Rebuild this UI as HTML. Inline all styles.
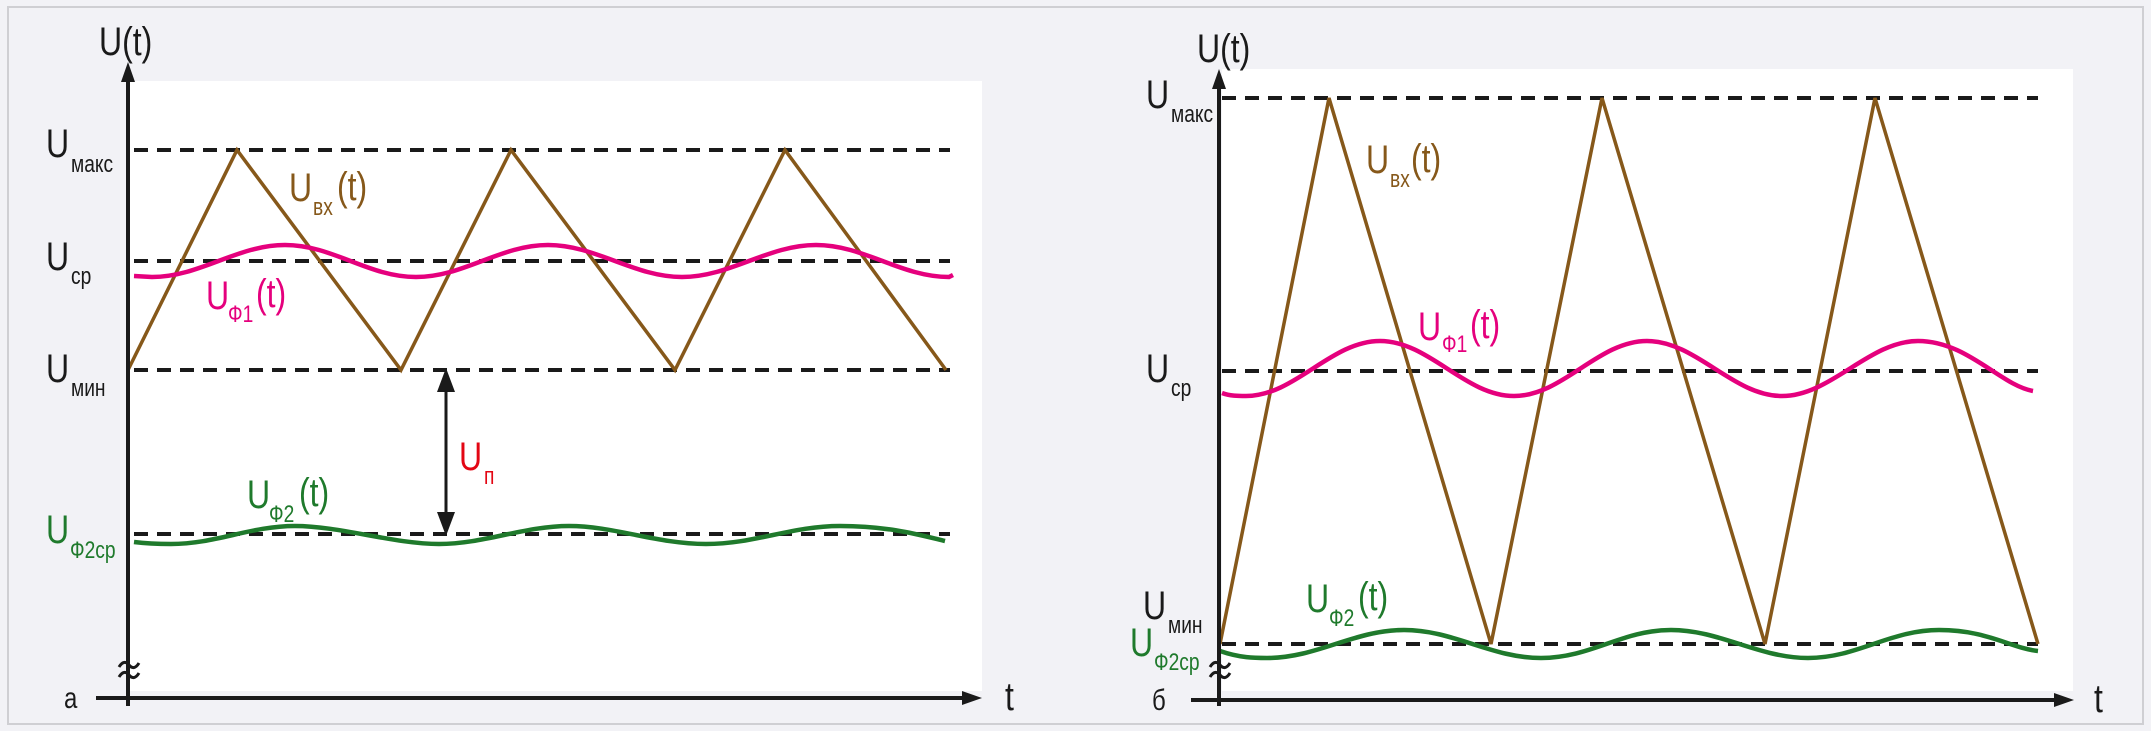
<!DOCTYPE html>
<html><head><meta charset="utf-8"><style>
html,body{margin:0;padding:0;background:#f2f2f6;}
svg{display:block;}
text{font-family:"Liberation Sans",sans-serif;}
</style></head><body>
<svg width="2151" height="731" viewBox="0 0 2151 731" xmlns="http://www.w3.org/2000/svg">
<rect x="0" y="0" width="2151" height="731" fill="#f2f2f6"/>
<rect x="8" y="7" width="2135" height="717" fill="#f2f2f6" stroke="#cfcfd3" stroke-width="2"/>
<rect x="130" y="81" width="852" height="610" fill="#fff"/>
<rect x="1222" y="69" width="851" height="622" fill="#fff"/>
<g fill="none" stroke-linecap="butt">
<!-- LEFT -->
<g stroke="#1a1a1a" stroke-width="4" stroke-dasharray="14 9">
<line x1="134" y1="150" x2="950" y2="150"/><line x1="134" y1="261" x2="950" y2="261"/>
<line x1="134" y1="370" x2="950" y2="370"/><line x1="134" y1="534" x2="950" y2="534"/>
</g>
<polyline stroke="#86581a" stroke-width="3.5" points="128,370 237,150 401,370 511,150 675,370 785,150 946,370"/>
<path stroke="#e5007d" stroke-width="4.5" d="M134,276 L152,277 C200,277 237,245 285,245 S368,277 416,277 S500,245 548,245 S634,277 682,277 S768,245 816,245 S901,277 949,277 L953,275"/>
<path stroke="#1f7a2c" stroke-width="4.5" d="M134,542 C150,544 160,544 171,544 C216,544 250,526 295,526 S394,544 439,544 S524,526 569,526 S657,544 706,544 S791,526 840,526 S920,535 945,541"/>
<line x1="446" y1="376" x2="446" y2="528" stroke="#1a1a1a" stroke-width="3"/>
<path d="M446,368 L437,392 L455,392z M446,536 L437,512 L455,512z" fill="#1a1a1a" stroke="none"/>
<line x1="128" y1="706" x2="128" y2="72" stroke="#1a1a1a" stroke-width="4"/>
<path d="M128,62 L121,82 L135,82z" fill="#1a1a1a" stroke="none"/>
<line x1="96" y1="698" x2="970" y2="698" stroke="#1a1a1a" stroke-width="4"/>
<path d="M982,698 L962,691 L962,705z" fill="#1a1a1a" stroke="none"/>
<path d="M119,667 q5,-8 10,-2 t10,-2 M119,677 q5,-8 10,-2 t10,-2" stroke="#1a1a1a" stroke-width="3"/>
<!-- RIGHT -->
<g stroke="#1a1a1a" stroke-width="4" stroke-dasharray="14 9">
<line x1="1222" y1="98" x2="2038" y2="98"/><line x1="1222" y1="371" x2="2038" y2="371"/>
<line x1="1222" y1="644" x2="2038" y2="644"/>
</g>
<polyline stroke="#86581a" stroke-width="3.5" points="1220,644 1329,98 1491,644 1602,98 1765,644 1875,98 2038,644"/>
<path stroke="#e5007d" stroke-width="4.5" d="M1222,393 C1230,396 1238,396 1246,396 C1295,396 1331,341 1380,341 S1465,396 1514,396 S1598,341 1647,341 S1733,396 1782,396 S1869,341 1918,341 S2000,385 2033,391"/>
<path stroke="#1f7a2c" stroke-width="4.5" d="M1220,651 C1240,658 1255,658 1267,658 C1317,658 1354,630 1404,630 S1491,658 1541,658 S1622,630 1671,630 S1759,658 1808,658 S1890,630 1939,630 S2010,648 2038,651"/>
<line x1="1219" y1="706" x2="1219" y2="80" stroke="#1a1a1a" stroke-width="4"/>
<path d="M1219,69 L1212,89 L1226,89z" fill="#1a1a1a" stroke="none"/>
<line x1="1191" y1="700" x2="2062" y2="700" stroke="#1a1a1a" stroke-width="4"/>
<path d="M2074,700 L2054,693 L2054,707z" fill="#1a1a1a" stroke="none"/>
<path d="M1210,667 q5,-8 10,-2 t10,-2 M1210,677 q5,-8 10,-2 t10,-2" stroke="#1a1a1a" stroke-width="3"/>
</g>
<g font-size="40" fill="#1a1a1a">
<text transform="translate(99,55) scale(0.8,1)">U(t)</text>
<text transform="translate(1005,710) scale(0.8,1)">t</text>
<text transform="translate(64,708) scale(0.8,1)" font-size="30">а</text>
<text transform="translate(46,157) scale(0.8,1)">U</text><text transform="translate(71,172) scale(0.8,1)" font-size="24">макс</text>
<text transform="translate(46,270) scale(0.8,1)">U</text><text transform="translate(71,284) scale(0.8,1)" font-size="24">ср</text>
<text transform="translate(46,382) scale(0.8,1)">U</text><text transform="translate(71,396) scale(0.8,1)" font-size="24">мин</text>
<g fill="#1f7a2c"><text transform="translate(46,543) scale(0.8,1)">U</text><text transform="translate(70,558) scale(0.8,1)" font-size="24">Ф2ср</text>
<text transform="translate(247,508) scale(0.8,1)">U</text><text transform="translate(269,522) scale(0.8,1)" font-size="24">Ф2</text><text transform="translate(299,506) scale(0.8,1)">(t)</text></g>
<g fill="#86581a"><text transform="translate(289,201) scale(0.8,1)">U</text><text transform="translate(313,215) scale(0.8,1)" font-size="24">вх</text><text transform="translate(337,200) scale(0.8,1)">(t)</text></g>
<g fill="#e5007d"><text transform="translate(206,309) scale(0.8,1)">U</text><text transform="translate(228,322) scale(0.8,1)" font-size="24">Ф1</text><text transform="translate(256,307) scale(0.8,1)">(t)</text></g>
<g fill="#e30613"><text transform="translate(459,470) scale(0.8,1)">U</text><text transform="translate(484,484) scale(0.8,1)" font-size="24">п</text></g>
<text transform="translate(1197,62) scale(0.8,1)">U(t)</text>
<text transform="translate(2094,712) scale(0.8,1)">t</text>
<text transform="translate(1152,710) scale(0.8,1)" font-size="30">б</text>
<text transform="translate(1146,108) scale(0.8,1)">U</text><text transform="translate(1171,122) scale(0.8,1)" font-size="24">макс</text>
<text transform="translate(1146,382) scale(0.8,1)">U</text><text transform="translate(1171,396) scale(0.8,1)" font-size="24">ср</text>
<text transform="translate(1143,619) scale(0.8,1)">U</text><text transform="translate(1168,633) scale(0.8,1)" font-size="24">мин</text>
<g fill="#1f7a2c"><text transform="translate(1130,656) scale(0.8,1)">U</text><text transform="translate(1154,670) scale(0.8,1)" font-size="24">Ф2ср</text>
<text transform="translate(1306,612) scale(0.8,1)">U</text><text transform="translate(1329,626) scale(0.8,1)" font-size="24">Ф2</text><text transform="translate(1358,610) scale(0.8,1)">(t)</text></g>
<g fill="#86581a"><text transform="translate(1366,173) scale(0.8,1)">U</text><text transform="translate(1390,187) scale(0.8,1)" font-size="24">вх</text><text transform="translate(1411,172) scale(0.8,1)">(t)</text></g>
<g fill="#e5007d"><text transform="translate(1418,340) scale(0.8,1)">U</text><text transform="translate(1442,352) scale(0.8,1)" font-size="24">Ф1</text><text transform="translate(1470,338) scale(0.8,1)">(t)</text></g>
</g>
</svg>
</body></html>
